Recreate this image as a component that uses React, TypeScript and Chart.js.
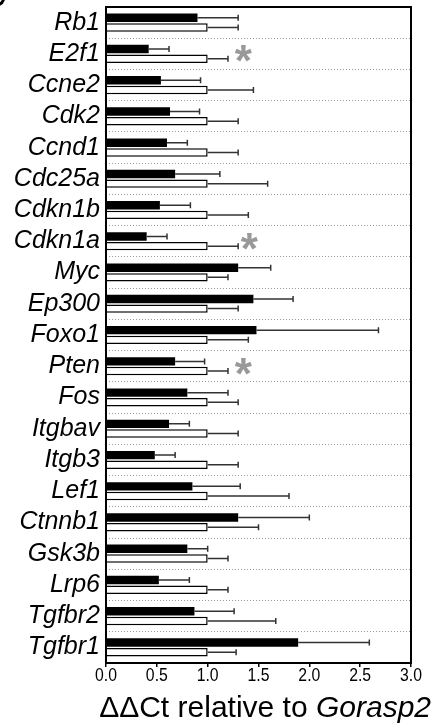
import React, { useEffect, useRef } from 'react';
import { Chart, registerables } from 'chart.js';

Chart.register(...registerables);

const genes = ['Rb1', 'E2f1', 'Ccne2', 'Cdk2', 'Ccnd1', 'Cdc25a', 'Cdkn1b', 'Cdkn1a', 'Myc', 'Ep300', 'Foxo1', 'Pten', 'Fos', 'Itgbav', 'Itgb3', 'Lef1', 'Ctnnb1', 'Gsk3b', 'Lrp6', 'Tgfbr2', 'Tgfbr1'];
const blackValues = [0.90, 0.42, 0.54, 0.63, 0.60, 0.68, 0.53, 0.40, 1.30, 1.45, 1.48, 0.68, 0.80, 0.62, 0.48, 0.85, 1.30, 0.80, 0.52, 0.87, 1.89];
const blackErrorEnds = [1.30, 0.62, 0.93, 0.92, 0.80, 1.12, 0.83, 0.60, 1.62, 1.84, 2.68, 0.97, 1.20, 0.82, 0.68, 1.32, 2.00, 1.00, 0.82, 1.26, 2.59];
const whiteValues = [1.0, 1.0, 1.0, 1.0, 1.0, 1.0, 1.0, 1.0, 1.0, 1.0, 1.0, 1.0, 1.0, 1.0, 1.0, 1.0, 1.0, 1.0, 1.0, 1.0, 1.0];
const whiteErrorEnds = [1.30, 1.20, 1.45, 1.30, 1.30, 1.59, 1.40, 1.30, 1.20, 1.30, 1.40, 1.20, 1.30, 1.30, 1.30, 1.80, 1.50, 1.20, 1.20, 1.67, 1.28];
const xTickValues = [0, 0.5, 1.0, 1.5, 2.0, 2.5, 3.0];
const starGenes = ['E2f1', 'Cdkn1a', 'Pten'];
const starX = [1.35, 1.41, 1.35];
const titleNormal = 'ΔΔCt relative to ';
const titleItalic = 'Gorasp2';

const errorEnds = [blackErrorEnds, whiteErrorEnds];

const errorBarPlugin = {
  id: 'errorBars',
  afterDatasetsDraw(chart: any) {
    const ctx = chart.ctx;
    const xs = chart.scales.x;
    ctx.save();
    ctx.strokeStyle = '#333';
    ctx.lineWidth = 1.5;
    chart.data.datasets.forEach((_: any, di: number) => {
      const meta = chart.getDatasetMeta(di);
      meta.data.forEach((el: any, j: number) => {
        const x0 = el.x;
        const x1 = xs.getPixelForValue(errorEnds[di][j]);
        ctx.beginPath();
        ctx.moveTo(x0, el.y);
        ctx.lineTo(x1, el.y);
        ctx.moveTo(x1, el.y - 3);
        ctx.lineTo(x1, el.y + 3);
        ctx.stroke();
      });
    });
    ctx.restore();
  },
};

const decorPlugin = {
  id: 'decor',
  afterDraw(chart: any) {
    const ctx = chart.ctx;
    const a = chart.chartArea;
    const xs = chart.scales.x;
    const ys = chart.scales.y;
    ctx.save();
    // frame
    ctx.strokeStyle = '#000';
    ctx.lineWidth = 2;
    ctx.strokeRect(a.left, a.top, a.right - a.left, a.bottom - a.top);
    // x tick labels (condensed)
    ctx.fillStyle = '#000';
    ctx.font = '19px "Liberation Sans", Arial, sans-serif';
    ctx.textAlign = 'center';
    ctx.textBaseline = 'alphabetic';
    xTickValues.forEach((v) => {
      const px = xs.getPixelForValue(v);
      ctx.save();
      ctx.translate(px, a.bottom + 18);
      ctx.scale(0.83, 1);
      ctx.fillText(v.toFixed(1), 0, 0);
      ctx.restore();
    });
    // stars
    ctx.fillStyle = '#999';
    ctx.font = 'bold 44px "Liberation Sans", Arial, sans-serif';
    ctx.textAlign = 'center';
    starGenes.forEach((g, i) => {
      const idx = genes.indexOf(g);
      const px = xs.getPixelForValue(starX[i]);
      const py = ys.getPixelForValue(idx);
      const m = ctx.measureText('*');
      const asc = m.actualBoundingBoxAscent;
      const desc = m.actualBoundingBoxDescent;
      const base = py + (asc - desc) / 2;
      ctx.fillText('*', px, base);
    });
    // axis title
    ctx.fillStyle = '#000';
    ctx.textAlign = 'left';
    const fNormal = '30px "Liberation Sans", Arial, sans-serif';
    const fItalic = 'italic 30px "Liberation Sans", Arial, sans-serif';
    ctx.font = fNormal;
    const w1 = ctx.measureText(titleNormal).width;
    ctx.font = fItalic;
    const w2 = ctx.measureText(titleItalic).width;
    const start = 431 - (w1 + w2);
    ctx.font = fNormal;
    ctx.fillText(titleNormal, start, 717);
    ctx.font = fItalic;
    ctx.fillText(titleItalic, start + w1, 717);
    // cut-off panel letter fragment
    ctx.strokeStyle = '#000';
    ctx.lineWidth = 3;
    ctx.beginPath();
    ctx.arc(-4, -3, 8, 0.35, 1.3);
    ctx.stroke();
    ctx.restore();
  },
};

export default function App() {
  const ref = useRef<HTMLCanvasElement | null>(null);
  useEffect(() => {
    if (!ref.current) return;
    const chart = new Chart(ref.current, {
      type: 'bar',
      data: {
        labels: genes,
        datasets: [
          {
            data: blackValues,
            backgroundColor: '#000',
            borderColor: '#000',
            borderWidth: 0,
            categoryPercentage: 0.62,
            barPercentage: 0.87,
          },
          {
            data: whiteValues,
            backgroundColor: '#fff',
            borderColor: '#000',
            borderWidth: 1.5,
            categoryPercentage: 0.62,
            barPercentage: 0.87,
          },
        ],
      },
      options: {
        indexAxis: 'y',
        responsive: false,
        animation: false,
        layout: { padding: { top: 7, right: 22, left: 0, bottom: 0 } },
        plugins: { legend: { display: false }, tooltip: { enabled: false } },
        scales: {
          x: {
            min: 0,
            max: 3,
            afterBuildTicks: (scale: any) => {
              scale.ticks = xTickValues.map((v) => ({ value: v }));
            },
            afterFit: (scale: any) => {
              scale.height = 65;
              scale.paddingLeft = 0;
              scale.paddingRight = 0;
            },
            grid: { drawOnChartArea: false, drawTicks: true, tickLength: 4, color: '#000', lineWidth: 1.5 },
            border: { display: false },
            ticks: { display: false },
          },
          y: {
            afterFit: (scale: any) => {
              scale.width = 106;
              scale.paddingTop = 0;
              scale.paddingBottom = 0;
            },
            grid: { display: true, offset: true, drawTicks: false, color: '#999', lineWidth: 1 },
            border: { display: false, dash: [1, 2] },
            ticks: {
              autoSkip: false,
              color: '#000',
              padding: 6,
              font: { family: '"Liberation Sans", Arial, sans-serif', size: 25, style: 'italic' },
            },
          },
        },
      },
      plugins: [errorBarPlugin, decorPlugin],
    });
    return () => chart.destroy();
  }, []);
  return (
    <div style={{ position: 'absolute', left: 0, top: 0, width: 433, height: 728, background: '#fff' }}>
      <canvas ref={ref} width={433} height={728} style={{ display: 'block' }} />
    </div>
  );
}
